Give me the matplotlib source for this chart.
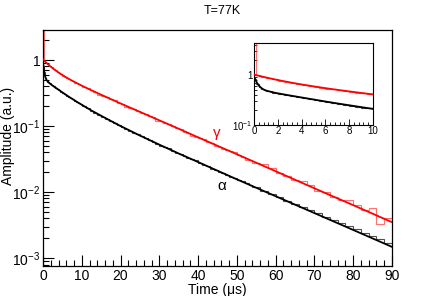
import numpy as np
import matplotlib
matplotlib.use('Agg')
import matplotlib.pyplot as plt
from matplotlib.ticker import FixedLocator, LogLocator, MultipleLocator, NullFormatter

plt.rcParams['font.family'] = ['Liberation Sans', 'DejaVu Sans']
plt.rcParams['mathtext.fontset'] = 'custom'
plt.rcParams['mathtext.rm'] = 'Liberation Sans'
plt.rcParams['mathtext.it'] = 'Liberation Sans'

# histogram bin edges (us)
edges = np.concatenate([[0, 0.2, 0.4, 0.6, 0.8, 1.0, 1.5, 2.0, 2.5, 3.0],
                        np.arange(3.5, 10.01, 0.5), np.arange(11, 55, 1),
                        np.arange(56, 91, 2)])

# gamma (red) histogram contents
gamma_hist = [5.0, 0.978, 0.953, 0.928, 0.905, 0.867, 0.816, 0.772, 0.732,
              0.695, 0.668, 0.633, 0.606, 0.574, 0.557, 0.535, 0.520, 0.496, 0.478,
              0.456, 0.445, 0.431, 0.417,
              0.396, 0.378, 0.348,
              0.327, 0.300, 0.289, 0.272, 0.255, 0.248, 0.227, 0.214, 0.196, 0.190,
              0.179, 0.172, 0.159, 0.150, 0.141, 0.138, 0.121, 0.118, 0.111, 0.109,
              0.099, 0.0930, 0.0905, 0.0826, 0.0779, 0.0712, 0.0692, 0.0652, 0.0640, 0.0579,
              0.0546, 0.0498, 0.0485, 0.0457, 0.0431, 0.0425, 0.0400, 0.0360, 0.0340, 0.0308,
              0.0302,
              0.0278, 0.0262, 0.0232, 0.0195, 0.0173, 0.0154, 0.0146, 0.0130, 0.0103, 0.0102,
              0.00852, 0.00757, 0.0075, 0.0064, 0.00530, 0.0058, 0.0033, 0.0040]

# alpha (black) histogram contents
alpha_hist = [0.82, 0.666, 0.579, 0.531, 0.502, 0.470, 0.443, 0.419, 0.400,
              0.381, 0.364, 0.347, 0.331, 0.316, 0.302, 0.289, 0.276, 0.265, 0.254,
              0.243, 0.233, 0.223, 0.214,
              0.202, 0.186, 0.172,
              0.159, 0.148, 0.138, 0.128, 0.119, 0.111, 0.1035, 0.0967, 0.0904, 0.0846,
              0.0792, 0.0752, 0.0696, 0.0652, 0.0611, 0.0575, 0.0539, 0.0507, 0.0477, 0.0458,
              0.0420, 0.0395, 0.0373, 0.0351, 0.0330, 0.0312, 0.0301, 0.0276, 0.0260, 0.0245,
              0.0226, 0.0217, 0.0203, 0.0192, 0.0181, 0.0170, 0.0166, 0.0152, 0.0147, 0.0135,
              0.0127,
              0.0118, 0.0105, 0.00935, 0.00835, 0.00745, 0.00665, 0.00600, 0.00530, 0.00475, 0.00425,
              0.00380, 0.00342, 0.00305, 0.00272, 0.00244, 0.00216, 0.00195, 0.00172]

# fit curves
t_fit = [0, 0.1, 0.2, 0.4, 0.6, 0.8, 1, 1.5, 2, 3, 4, 5, 6, 7, 8, 9, 10, 12.5, 15,
         20, 25, 30, 35, 40, 50, 60, 70, 80, 90]
gamma_fit = [1.02, 1.006, 0.992, 0.965, 0.941, 0.917, 0.893, 0.841, 0.793, 0.713, 0.647,
             0.593, 0.546, 0.505, 0.470, 0.438, 0.409, 0.348, 0.298, 0.220, 0.164, 0.122,
             0.0910, 0.0675, 0.0374, 0.0207, 0.0114, 0.00634, 0.0035]
alpha_fit = [0.947, 0.822, 0.733, 0.616, 0.553, 0.514, 0.490, 0.455, 0.430, 0.390, 0.355,
             0.324, 0.295, 0.270, 0.248, 0.228, 0.210, 0.172, 0.143, 0.100, 0.0718, 0.0523,
             0.0384, 0.0285, 0.0156, 0.00866, 0.00481, 0.00267, 0.00148]

red_h = (1.0, 0.25, 0.25, 0.75)
black_h = '#505050'


def draw(ax, lw_h, lw_f):
    ax.stairs(gamma_hist, edges, color=red_h, lw=lw_h, baseline=None, zorder=2)
    ax.stairs(alpha_hist, edges, color=black_h, lw=lw_h, baseline=None, zorder=2)
    ax.plot(t_fit, gamma_fit, color='red', lw=lw_f, zorder=3)
    ax.plot(t_fit, alpha_fit, color='black', lw=lw_f, zorder=3)
    ax.set_yscale('log')


fig = plt.figure(figsize=(4.36, 2.96), dpi=100)
ax = fig.add_axes([43 / 436, 30 / 296, 349 / 436, 236 / 296])
draw(ax, 0.8, 1.3)
ax.set_xlim(0, 90)
ax.set_ylim(7.6e-4, 2.85)
ax.xaxis.set_major_locator(MultipleLocator(10))
ax.xaxis.set_minor_locator(MultipleLocator(2))
ax.yaxis.set_major_locator(FixedLocator([1e-3, 1e-2, 1e-1, 1]))
ax.yaxis.set_major_formatter(plt.FixedFormatter([r'$10^{-3}$', r'$10^{-2}$', r'$10^{-1}$', '1']))
ax.yaxis.set_minor_locator(LogLocator(base=10, subs=np.arange(2, 10)))
ax.yaxis.set_minor_formatter(NullFormatter())
ax.tick_params(which='both', direction='in', labelsize=10, pad=2, width=0.8)
ax.tick_params(which='major', length=8)
ax.tick_params(which='minor', length=4)
for s in ax.spines.values():
    s.set_linewidth(0.9)
ax.set_xlabel('Time (\u03bcs)', fontsize=10, va='top')
ax.xaxis.set_label_coords(0.5, -0.072)
ax.set_ylabel('Amplitude (a.u.)', fontsize=10)
ax.yaxis.set_label_coords(-0.081, 0.55)
ax.text(44.7, 0.078, '\u03b3', color='red', fontsize=11, ha='center', va='center')
ax.text(46.0, 0.0123, '\u03b1', color='black', fontsize=11, ha='center', va='center')
fig.text(0.509, 0.962, 'T=77K', ha='center', va='center', fontsize=9)

# inset: first 10 us
axi = fig.add_axes([254 / 436, 171 / 296, 119 / 436, 82 / 296])
draw(axi, 0.8, 1.3)
axi.set_xlim(0, 10)
axi.set_ylim(0.1, 4.37)
axi.xaxis.set_major_locator(MultipleLocator(2))
axi.xaxis.set_minor_locator(MultipleLocator(0.4))
axi.yaxis.set_major_locator(FixedLocator([1e-1, 1]))
axi.yaxis.set_major_formatter(plt.FixedFormatter([r'$10^{-1}$', '1']))
axi.yaxis.set_minor_locator(LogLocator(base=10, subs=np.arange(2, 10)))
axi.yaxis.set_minor_formatter(NullFormatter())
axi.tick_params(which='both', direction='in', labelsize=7, pad=1, width=0.6)
axi.tick_params(which='major', length=4)
axi.tick_params(which='minor', length=2)
for s in axi.spines.values():
    s.set_linewidth(0.8)

fig.savefig('out.png', dpi=100)
